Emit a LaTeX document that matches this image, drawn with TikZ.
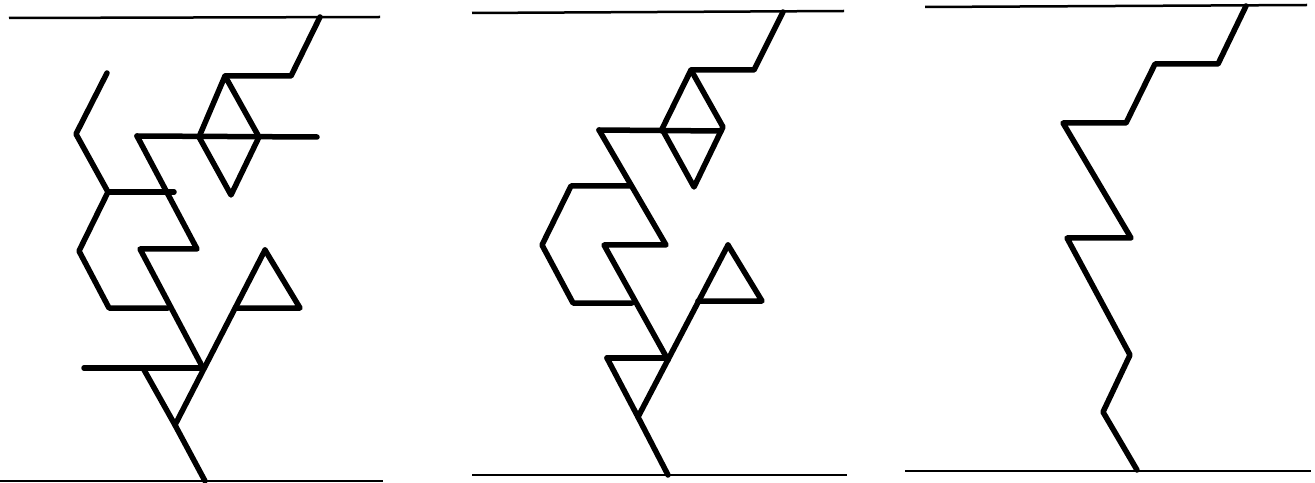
\documentclass[tikz,border=0pt]{standalone}
\begin{document}
\begin{tikzpicture}[x=0.2mm, y=-0.2mm,
  boundary/.style={line width=0.5mm},
  chain/.style={line width=1.1mm, line join=round, line cap=round}]

  \useasboundingbox (0,0) rectangle (1315,483);

  % === LEFT PANEL ===
  \begin{scope}
    % Boundaries
    \draw[boundary] (9,18) -- (380,17);
    \draw[boundary] (0,481) -- (383,481);

    % Upper branch with diamond
    \draw[chain] (320,17) -- (291,76) -- (225,76);
    \draw[chain] (225,76) -- (199,137) -- (231,195) -- (259,137) -- cycle;
    \draw[chain] (137,136) -- (317,137);

    % Left zigzag
    \draw[chain] (107,73) -- (76,134) -- (108,192) -- (79,251)
      -- (109,308) -- (168,308);
    \draw[chain] (108,192) -- (174,192);

    % Middle Z
    \draw[chain] (137,136) -- (197,249) -- (140,249) -- (203,368);

    % Right triangle and trunk
    \draw[chain] (265,250) -- (300,308) -- (236,308);
    \draw[chain] (265,250) -- (175,425);

    % Lower triangle
    \draw[chain] (84,368) -- (203,368);
    \draw[chain] (143,368) -- (175,425) -- (205,481);
  \end{scope}

  % === MIDDLE PANEL ===
  \begin{scope}
    % Boundaries
    \draw[boundary] (472,13) -- (844,11);
    \draw[boundary] (472,475) -- (847,475);

    % Upper branch with diamond
    \draw[chain] (783,12) -- (754,70) -- (691,70);
    \draw[chain] (691,70) -- (662,129) -- (694,187) -- (723,127) -- cycle;
    \draw[chain] (599,130) -- (721,131);

    % Middle Z
    \draw[chain] (599,130) -- (666,245) -- (604,245) -- (668,360);

    % Left loop
    \draw[chain] (630,186) -- (571,186) -- (542,245)
      -- (573,303) -- (632,303);

    % Right triangle and trunk
    \draw[chain] (728,245) -- (762,301) -- (698,301);
    \draw[chain] (728,245) -- (638,417);

    % Lower triangle
    \draw[chain] (607,358) -- (668,358);
    \draw[chain] (607,358) -- (638,417) -- (668,475);
  \end{scope}

  % === RIGHT PANEL ===
  \begin{scope}
    % Boundaries
    \draw[boundary] (925,7) -- (1307,5);
    \draw[boundary] (905,471) -- (1311,471);

    % Single path
    \draw[chain] (1246,6) -- (1218,64) -- (1155,64) -- (1126,123)
      -- (1063,123) -- (1131,238) -- (1067,238) -- (1130,355)
      -- (1103,412) -- (1137,470);
  \end{scope}

\end{tikzpicture}
\end{document}
